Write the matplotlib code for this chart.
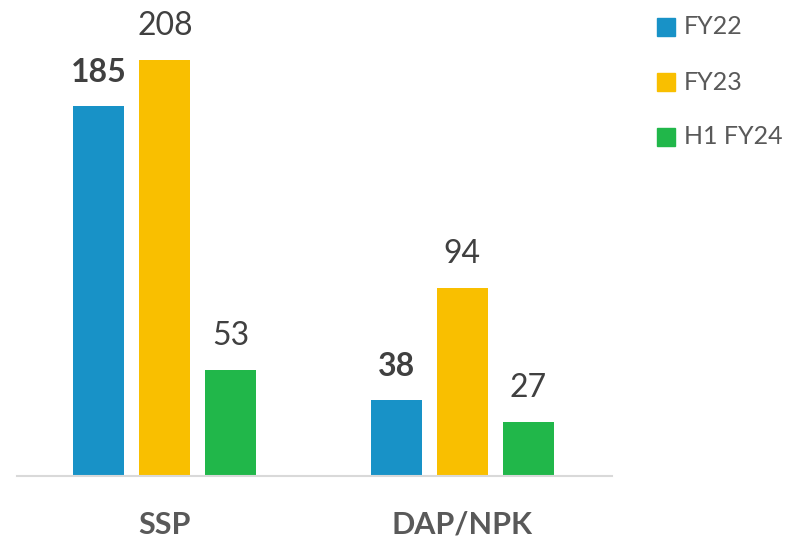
import matplotlib.pyplot as plt
from matplotlib.patches import Rectangle
import numpy as np

plt.rcParams['font.family'] = ['Lato', 'DejaVu Sans']

categories = ["SSP", "DAP/NPK"]
series = ["FY22", "FY23", "H1 FY24"]
fy22 = [185, 38]
fy23 = [208, 94]
h1fy24 = [53, 27]
colors = ["#1892C7", "#F9BF00", "#21B74A"]

fig = plt.figure(figsize=(7.92, 5.41), dpi=100)
ax = fig.add_axes([17 / 792, 1 - 476 / 541, (612 - 17) / 792, 476 / 541])

x = np.arange(len(categories))
width = 0.171
offset = 0.222
for i, (vals, col) in enumerate(zip([fy22, fy23, h1fy24], colors)):
    pos = x + (i - 1) * offset
    ax.bar(pos, vals, width, color=col)
    for px, v in zip(pos, vals):
        ax.annotate(str(v), (px, v), xytext=(0, 14), textcoords="offset points",
                    ha="center", va="bottom", fontsize=23, color="#404040",
                    fontweight="bold" if i == 0 else "normal")

ax.set_xlim(-0.497, 1.503)
ax.set_ylim(0, 238)
for s in ["top", "right", "left"]:
    ax.spines[s].set_visible(False)
ax.spines["bottom"].set_color("#D9D9D9")
ax.spines["bottom"].set_linewidth(1.5)
ax.set_yticks([])
ax.set_xticks([])
for xi, c in zip(x, categories):
    ax.annotate(c, (xi, 0), xytext=(0, -35), textcoords="offset points",
                ha="center", va="center", fontsize=22, fontweight="bold",
                color="#595959", annotation_clip=False)

# legend
for k, (lab, col) in enumerate(zip(series, colors)):
    yc = 27 + k * 55
    fig.patches.append(Rectangle((657 / 792, 1 - (yc + 9) / 541), 18 / 792, 18 / 541,
                                 transform=fig.transFigure, color=col))
    fig.text(684 / 792, 1 - yc / 541, lab, ha="left", va="center", fontsize=18,
             color="#595959")

fig.savefig("out.png", dpi=100)
